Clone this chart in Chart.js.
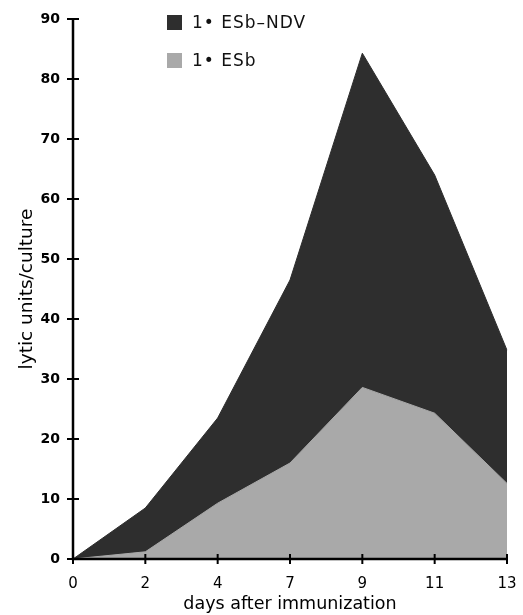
<!DOCTYPE html>
<html>
<head>
<meta charset="utf-8">
<script src="https://cdn.jsdelivr.net/npm/chart.js@4/dist/chart.umd.min.js"></script>
<style>
    html, body { margin: 0; padding: 0; background: #fff; }
    #wrap { position: relative; width: 523px; height: 615px; }
    #legend { position: absolute; left: 167px; top: 11px; font-family: "DejaVu Sans", sans-serif; font-size: 17px; letter-spacing: 1px; color: #111; }
    #legend div { height: 22px; line-height: 22px; margin-bottom: 16px; white-space: nowrap; }
    #legend span.box { display: inline-block; width: 15px; height: 15px; vertical-align: -2px; margin-right: 10px; }
</style>
</head>
<body>
<div id="wrap">
    <canvas id="lyticChart" width="523" height="615"></canvas>
    <div id="legend"></div>
</div>
<script>
const days = ['0', '2', '4', '7', '9', '11', '13'];
const esbNdv = [0, 8.5, 23.5, 46.5, 84.3, 64, 34.8];
const esb = [0, 1.2, 9.3, 16, 28.6, 24.3, 12.6];
const yTicks = [0, 10, 20, 30, 40, 50, 60, 70, 80, 90];

const seriesLabels = ['1\u2022 ESb\u2013NDV', '1\u2022 ESb'];
const seriesColors = ['#2e2e2e', '#a9a9a9'];

// ticks that cross the axis line on both sides
const crossTicks = {
    id: 'crossTicks',
    afterDraw(chart) {
        const ctx = chart.ctx;
        const xs = chart.scales.x;
        const ys = chart.scales.y;
        const area = chart.chartArea;
        ctx.save();
        ctx.strokeStyle = '#000';
        ctx.lineWidth = 2.5;
        ctx.beginPath();
        ctx.moveTo(area.left, area.top);
        ctx.lineTo(area.left, area.bottom);
        ctx.lineTo(area.right, area.bottom);
        ctx.stroke();
        ctx.lineWidth = 2;
        yTicks.forEach(v => {
            const y = ys.getPixelForValue(v);
            ctx.beginPath();
            ctx.moveTo(area.left - 6, y);
            ctx.lineTo(area.left + 6, y);
            ctx.stroke();
        });
        days.forEach((d, i) => {
            const x = xs.getPixelForValue(i);
            ctx.beginPath();
            ctx.moveTo(x, area.bottom - 5);
            ctx.lineTo(x, area.bottom + 5);
            ctx.stroke();
        });
        ctx.restore();
    }
};

const ctx = document.getElementById('lyticChart').getContext('2d');
const chart = new Chart(ctx, {
    type: 'line',
    data: {
        labels: days,
        datasets: [
            {
                label: seriesLabels[0],
                data: esbNdv,
                fill: 'origin',
                backgroundColor: seriesColors[0],
                borderColor: seriesColors[0],
                borderWidth: 1,
                pointRadius: 0,
                tension: 0,
                order: 2
            },
            {
                label: seriesLabels[1],
                data: esb,
                fill: 'origin',
                backgroundColor: seriesColors[1],
                borderColor: seriesColors[1],
                borderWidth: 1,
                pointRadius: 0,
                tension: 0,
                order: 1
            }
        ]
    },
    options: {
        responsive: false,
        animation: false,
        layout: { padding: { top: 19, right: 16, left: 16, bottom: 0 } },
        plugins: {
            legend: { display: false },
            tooltip: { enabled: false }
        },
        scales: {
            x: {
                type: 'category',
                offset: false,
                grid: { display: false, drawTicks: false },
                border: { display: false },
                ticks: {
                    color: '#000',
                    padding: 16,
                    maxRotation: 0,
                    font: { family: 'DejaVu Sans', size: 15 }
                },
                title: {
                    display: true,
                    text: 'days after immunization',
                    color: '#000',
                    padding: { top: 0, bottom: 0 },
                    font: { family: 'DejaVu Sans', size: 17.5 }
                },
                afterFit(scale) {
                    scale.height = 56;
                    scale.paddingLeft = 0;
                    scale.paddingRight = 0;
                }
            },
            y: {
                min: 0,
                max: 90,
                grid: { display: false, drawTicks: false },
                border: { display: false },
                afterBuildTicks(scale) { scale.ticks = yTicks.map(v => ({ value: v })); },
                ticks: {
                    color: '#000',
                    padding: 13,
                    font: { family: 'DejaVu Sans', size: 14, weight: 'bold' }
                },
                title: {
                    display: true,
                    text: 'lytic units/culture',
                    color: '#000',
                    padding: { top: 0, bottom: 0 },
                    font: { family: 'DejaVu Sans', size: 18.5 }
                },
                afterFit(scale) {
                    scale.width = 57;
                    scale.paddingTop = 0;
                    scale.paddingBottom = 0;
                }
            }
        }
    },
    plugins: [crossTicks]
});

// legend built from the datasets
const legendEl = document.getElementById('legend');
chart.data.datasets.forEach(ds => {
    const row = document.createElement('div');
    const box = document.createElement('span');
    box.className = 'box';
    box.style.background = ds.backgroundColor;
    row.appendChild(box);
    row.appendChild(document.createTextNode(ds.label));
    legendEl.appendChild(row);
});
</script>
</body>
</html>
